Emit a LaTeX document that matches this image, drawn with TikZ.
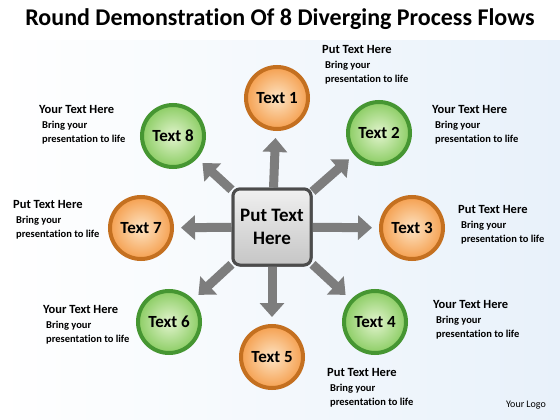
\documentclass[tikz,border=0pt]{standalone}
\usepackage{fontspec}
\setmainfont{Carlito}[Ligatures=NoCommon]
\usetikzlibrary{shapes,arrows.meta,positioning,calc}
\definecolor{orangeRing}{RGB}{196,112,32}
\definecolor{orangeIn}{RGB}{253,228,196}
\definecolor{orangeOut}{RGB}{245,160,80}
\definecolor{greenRing}{RGB}{70,150,50}
\definecolor{greenIn}{RGB}{226,244,206}
\definecolor{greenOut}{RGB}{140,205,100}
\definecolor{spokeGray}{RGB}{125,125,125}
\definecolor{bgBlue}{RGB}{232,241,250}
\tikzset{
    ballO/.style={circle, minimum size=62pt, line width=4pt, draw=orangeRing,
                  inner color=orangeIn, outer color=orangeOut, font=\bfseries\fontsize{17}{19}\selectfont},
    ballG/.style={circle, minimum size=62pt, line width=4pt, draw=greenRing,
                  inner color=greenIn, outer color=greenOut, font=\bfseries\fontsize{17}{19}\selectfont},
    hubbox/.style={draw=gray!60!black, line width=3pt, rounded corners=7pt, minimum width=78pt,
                   minimum height=76pt, top color=gray!12, bottom color=gray!45, align=center,
                   font=\bfseries\fontsize{19}{23}\selectfont},
    spoke/.style={draw=spokeGray, line width=9pt, shorten >=7pt,
                  -{Triangle[length=14pt,width=24pt]}},
    blurb/.style={anchor=north west, align=left, inner sep=0pt, font=\bfseries\fontsize{10.5}{14}\selectfont},
}
\newcommand{\blurbtext}[1]{{\fontsize{12.5}{14}\selectfont #1}\\[1pt]\hspace*{3pt}Bring your\\\hspace*{3pt}presentation to life}
\begin{document}
\begin{tikzpicture}[x=1pt,y=-1pt]
    % background
    \useasboundingbox (0,0) rectangle (560,420);
    \shade[left color=white, right color=bgBlue] (0,0) rectangle (560,420);
    \fill[white] (0,0) rectangle (560,40);

    % title
    \node[font=\bfseries\fontsize{24}{27}\selectfont] (title) at (280,19) {Round Demonstration Of 8 Diverging Process Flows};

    % spokes first, hub on top
    \node[hubbox] (hub) at (272,227) {Put Text\\Here};

    \node[ballO] (c1) at (277,98)  {Text 1};
    \node[ballG] (c2) at (379,133) {Text 2};
    \node[ballO] (c3) at (412,228) {Text 3};
    \node[ballG] (c4) at (375,322) {Text 4};
    \node[ballO] (c5) at (272,357) {Text 5};
    \node[ballG] (c6) at (169,322) {Text 6};
    \node[ballO] (c7) at (141,228) {Text 7};
    \node[ballG] (c8) at (173,136) {Text 8};

    \foreach \c in {1,...,8} {
        \draw[spoke] (hub) -- (c\c);
    }
    \node[hubbox] at (hub) {Put Text\\Here};

    % side texts
    \node[blurb] (t1) at (322,45)  {\blurbtext{Put Text Here}};
    \node[blurb] (t2) at (432,105) {\blurbtext{Your Text Here}};
    \node[blurb] (t3) at (458,205) {\blurbtext{Put Text Here}};
    \node[blurb] (t4) at (433,300) {\blurbtext{Your Text Here}};
    \node[blurb] (t5) at (327,368) {\blurbtext{Put Text Here}};
    \node[blurb] (t6) at (43,305)  {\blurbtext{Your Text Here}};
    \node[blurb] (t7) at (13,200)  {\blurbtext{Put Text Here}};
    \node[blurb] (t8) at (39,105)  {\blurbtext{Your Text Here}};

    \node[font=\fontsize{10}{12}\selectfont] (logo) at (526,405) {Your Logo};
\end{tikzpicture}
\end{document}
